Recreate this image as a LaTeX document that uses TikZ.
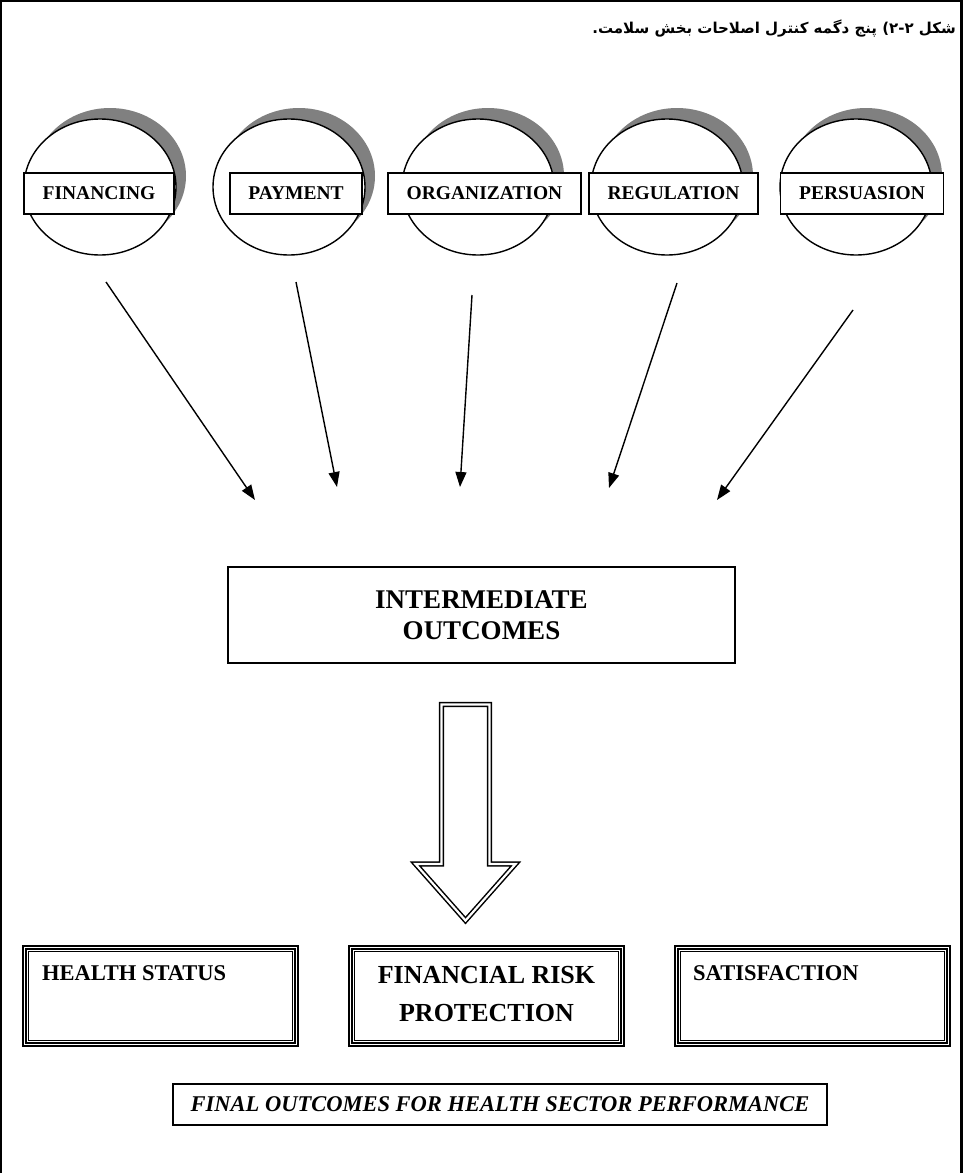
\documentclass[tikz,border=0pt]{standalone}
\usepackage{fontspec}
\setmainfont{Liberation Serif}
\newfontfamily\arabicfont[Script=Arabic]{DejaVu Sans}
\TeXXeTstate=1
\usetikzlibrary{shapes.geometric,arrows.meta,calc}
\definecolor{shadowgray}{HTML}{808080}

\begin{document}
\begin{tikzpicture}[x=1pt,y=-1pt,
  disc/.style={ellipse,draw,line width=1.4pt,fill=white,
    minimum width=152pt,minimum height=136pt,inner sep=0pt},
  discshadow/.style={ellipse,fill=shadowgray,
    minimum width=152pt,minimum height=136pt,inner sep=0pt},
  tag/.style={rectangle,draw,line width=1.4pt,fill=white,minimum height=41pt,
    inner xsep=18.5pt,inner ysep=0pt,font=\fontsize{19.5}{23}\selectfont\bfseries},
  feed/.style={line width=1.4pt,-{Triangle[length=15pt,width=11pt]}},
  hollow/.style={draw,line width=1.5pt,double,double distance=2.2pt,line join=miter},
  midbox/.style={rectangle,draw,line width=1.4pt,minimum width=507pt,minimum height=96pt,
    align=center,font=\fontsize{27}{33}\selectfont\bfseries},
  outcome/.style={rectangle,draw,line width=1.5pt,double,double distance=1.4pt,
    minimum width=272pt,minimum height=97pt,inner sep=0pt},
  outlabel/.style={font=\fontsize{22.5}{27}\selectfont\bfseries},
  finalbox/.style={rectangle,draw,line width=1.4pt,minimum width=654pt,minimum height=41pt,
    inner sep=0pt,font=\fontsize{22.5}{27}\selectfont\bfseries\itshape}
]
\useasboundingbox (0,0) rectangle (965,1173);

% page frame, open at the lower edge
\draw[line width=2.4pt] (1.2,1190) -- (1.2,1.2) -- (961.3,1.2) -- (961.3,1190);

% caption
\node[anchor=base east,inner sep=0pt] (title) at (956,33)
  {\arabicfont\bfseries\fontsize{15}{19}\selectfont\beginR شکل ۲-۲) پنج دگمه کنترل اصلاحات بخش سلامت.\endR};

% five control knobs: shadow, disc, label
\foreach \i/\cx in {1/100,2/289,3/478,4/667,5/856}{
  \node[discshadow] (s\i) at (\cx+10,176) {};
  \node[disc] (c\i) at (\cx,187) {};
}
\node[tag] (t1) at (99,193.5)    {FINANCING};
\node[tag] (t2) at (296,193.5)   {PAYMENT};
\node[tag] (t3) at (484.5,193.5) {ORGANIZATION};
\node[tag] (t4) at (673.5,193.5) {REGULATION};
\node[tag] (t5) at (862,193.5)   {PERSUASION};

% intermediate outcomes
\node[midbox] (mid) at (481.5,615) {INTERMEDIATE\\[-2pt]OUTCOMES};

% arrows from the knobs towards the intermediate outcomes
\coordinate (a1s) at (106,282); \coordinate (a1e) at (255,500);
\coordinate (a2s) at (296,282); \coordinate (a2e) at (337,487);
\coordinate (a3s) at (472,295); \coordinate (a3e) at (460,487);
\coordinate (a4s) at (677,283); \coordinate (a4e) at (609,488);
\coordinate (a5s) at (853,310); \coordinate (a5e) at (717,500);
\foreach \i in {1,...,5}{ \draw[feed] (a\i s) -- (a\i e); }

% large hollow arrow
\draw[hollow] (441.5,704.5) -- (489.5,704.5) -- (489.5,864) -- (515.5,864)
  -- (465.5,920.5) -- (415.5,864) -- (441.5,864) -- cycle;

% final outcomes
\node[outcome] (hs)  at (160.5,996) {};
\node[outcome] (frp) at (486.5,996) {};
\node[outcome] (sat) at (812.5,996) {};
\foreach \b in {hs,frp,sat}{
  \draw[line width=1pt] ($(\b.north west)+(5,5)$) rectangle ($(\b.south east)+(-5,-5)$);
}
\node[outlabel,anchor=base west,inner sep=0pt] (hst) at (42,980) {HEALTH STATUS};
\node[outlabel,anchor=base west,inner sep=0pt] (satt) at (693,980) {SATISFACTION};
\node[align=center,inner sep=0pt,font=\fontsize{26}{38}\selectfont\bfseries] (frpt) at (486.5,994)
  {FINANCIAL RISK\\PROTECTION};

\node[finalbox] (fin) at (500,1104.5) {FINAL OUTCOMES FOR HEALTH SECTOR PERFORMANCE};
\end{tikzpicture}
\end{document}
